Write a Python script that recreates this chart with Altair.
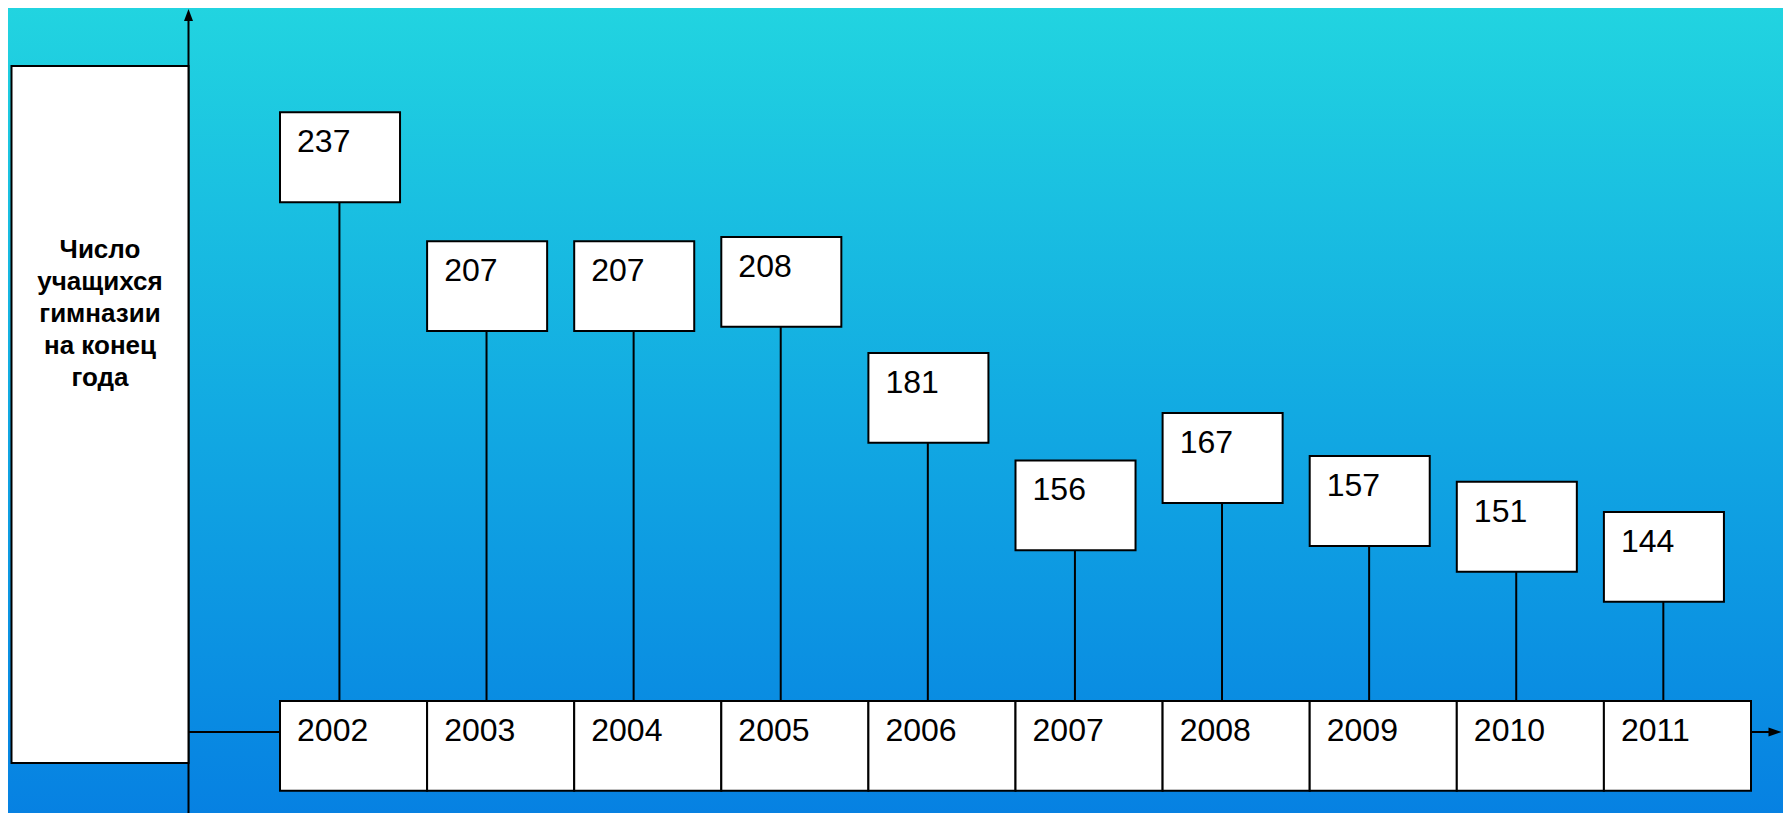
import altair as alt
import pandas as pd

# ---- data ----
years = [2002, 2003, 2004, 2005, 2006, 2007, 2008, 2009, 2010, 2011]
students = [237, 207, 207, 208, 181, 156, 167, 157, 151, 144]
label_lines = ["Число", "учащихся", "гимназии", "на конец", "года"]

W, H = 1775, 805
FONT = "Liberation Sans"

df = pd.DataFrame({"year": years, "students": students})
one = alt.Data(values=[{}])

xs = alt.Scale(domain=[2002, 2012], range=[272, 1743], zero=False, nice=False)
ys = alt.Scale(domain=[100, 250], range=[693, 48.5], zero=False, nice=False)

base = alt.Chart(df).transform_calculate(
    year_end="datum.year + 1",
    box_end="datum.year + 0.816",
    stem_x="datum.year + 0.404",
    text_x="datum.year + 0.116",
    box_bottom="datum.students - 20.9",
    base_top="100",
    base_bottom="79.1",
)

background = alt.Chart(one).mark_rect(
    color=alt.Gradient(
        gradient="linear",
        stops=[
            alt.GradientStop(color="#22D5E0", offset=0),
            alt.GradientStop(color="#12AAE2", offset=0.5),
            alt.GradientStop(color="#0680E2", offset=1),
        ],
        x1=0, x2=0, y1=0, y2=1,
    )
).encode(x=alt.value(0), x2=alt.value(W), y=alt.value(-10), y2=alt.value(H + 10))

# axes drawn as arrows
v_axis = alt.Chart(one).mark_rule(color="black", strokeWidth=2).encode(
    x=alt.value(180.5), y=alt.value(8), y2=alt.value(H)
)
h_axis = alt.Chart(one).mark_rule(color="black", strokeWidth=2).encode(
    x=alt.value(180.5), x2=alt.value(1764), y=alt.value(724)
)
up_arrow = alt.Chart(one).mark_point(
    shape="M0,-1L0.75,1L-0.75,1Z", filled=True, color="black", size=144, opacity=1
).encode(x=alt.value(180.5), y=alt.value(7))
right_arrow = alt.Chart(one).mark_point(
    shape="M1,0L-1,0.7L-1,-0.7Z", filled=True, color="black", size=169, opacity=1
).encode(x=alt.value(1767), y=alt.value(724))

# label box on the left
label_box = alt.Chart(one).mark_rect(fill="white", stroke="black", strokeWidth=2).encode(
    x=alt.value(3.5), x2=alt.value(180.5), y=alt.value(58), y2=alt.value(755)
)
label_text = alt.Chart(one).mark_text(
    align="center", baseline="alphabetic", fontSize=26, fontWeight="bold",
    lineHeight=32, font=FONT, color="black"
).encode(x=alt.value(92), y=alt.value(250), text=alt.value(label_lines))

# year boxes
year_boxes = base.mark_rect(fill="white", stroke="black", strokeWidth=2).encode(
    x=alt.X("year:Q", scale=xs, axis=None),
    x2="year_end:Q",
    y=alt.Y("base_top:Q", scale=ys, axis=None),
    y2="base_bottom:Q",
)
year_text = base.mark_text(
    align="left", baseline="alphabetic", dy=40, fontSize=32, font=FONT, color="black"
).encode(
    x=alt.X("text_x:Q", scale=xs, axis=None),
    y=alt.Y("base_top:Q", scale=ys, axis=None),
    text="year:N",
)

# stems
stems = base.mark_rule(color="black", strokeWidth=2).encode(
    x=alt.X("stem_x:Q", scale=xs, axis=None),
    y=alt.Y("box_bottom:Q", scale=ys, axis=None),
    y2="base_top:Q",
)

# value boxes
value_boxes = base.mark_rect(fill="white", stroke="black", strokeWidth=2).encode(
    x=alt.X("year:Q", scale=xs, axis=None),
    x2="box_end:Q",
    y=alt.Y("students:Q", scale=ys, axis=None),
    y2="box_bottom:Q",
)
value_text = base.mark_text(
    align="left", baseline="alphabetic", dy=40, fontSize=32, font=FONT, color="black"
).encode(
    x=alt.X("text_x:Q", scale=xs, axis=None),
    y=alt.Y("students:Q", scale=ys, axis=None),
    text="students:N",
)

chart = alt.layer(
    background, h_axis, v_axis, up_arrow, right_arrow, label_box, label_text,
    stems, year_boxes, year_text, value_boxes, value_text,
).properties(
    width=W, height=H,
    autosize=alt.AutoSizeParams(type="none"),
    padding=0,
    background="#12AAE2",
).configure_view(stroke=None)

chart.save("out.html", embed_options={"renderer": "svg", "actions": False})
